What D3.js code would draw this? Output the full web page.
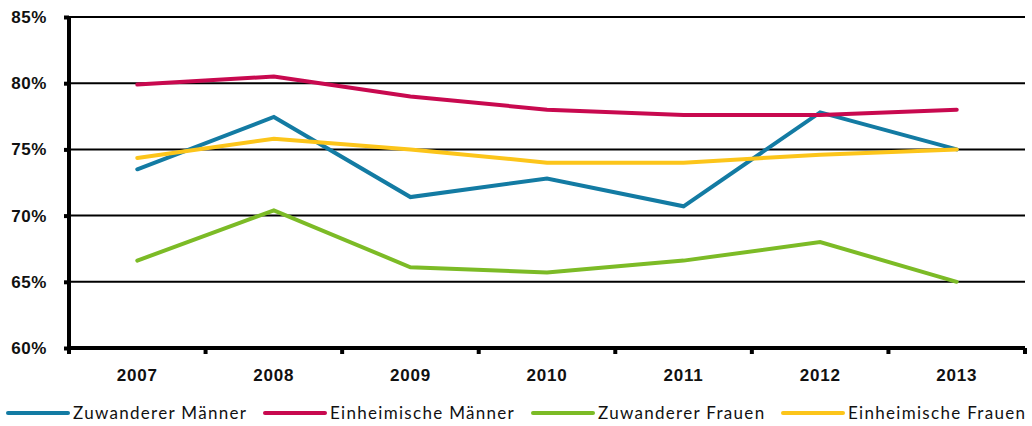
<!DOCTYPE html>
<html>
<head>
<meta charset="utf-8">
<script src="https://cdn.jsdelivr.net/npm/d3@7"></script>
<style>
  body { margin: 0; background: #fff; }
  svg { display: block; font-family: Lato, "Open Sans", sans-serif; }
</style>
</head>
<body>
<svg id="chart" width="1032" height="426"></svg>
<script>
"use strict";

// categories and series
const years = [ '2007', '2008', '2009', '2010', '2011', '2012', '2013' ];
const zuwandererMaenner   = [ 73.5, 77.45, 71.4, 72.8, 70.7, 77.8, 75.0 ];
const einheimischeMaenner = [ 79.9, 80.5, 79.0, 78.0, 77.6, 77.6, 78.0 ];
const zuwandererFrauen    = [ 66.6, 70.4, 66.1, 65.7, 66.6, 68.0, 65.0 ];
const einheimischeFrauen  = [ 74.35, 75.8, 75.0, 74.0, 74.0, 74.6, 75.0 ];
const yTicks = [ 60, 65, 70, 75, 80, 85 ];

const series = [
  { name: 'Zuwanderer Männer',   values: zuwandererMaenner,   color: '#137ba3' },
  { name: 'Einheimische Männer', values: einheimischeMaenner, color: '#c8094f' },
  { name: 'Zuwanderer Frauen',   values: zuwandererFrauen,    color: '#7cbb26' },
  { name: 'Einheimische Frauen', values: einheimischeFrauen,  color: '#fcc51a' },
];

const margin = { top: 17, left: 69, right: 7, bottom: 78 };
const width  = 1032 - margin.left - margin.right,
      height = 426 - margin.top - margin.bottom;

const svg = d3.select( '#chart' )
  .append( 'g' )
    .attr( 'transform', `translate(${margin.left}, ${margin.top})` );

// scales
const x = d3.scaleBand().domain( years ).range( [0, width] ).padding( 0 );
const y = d3.scaleLinear().domain( [60, 85] ).range( [height, 0] );

// gridlines
svg.append( 'g' )
  .selectAll( 'line' )
  .data( yTicks.filter( t => t > 60 ) )
  .enter().append( 'line' )
    .attr( 'x1', 0 ).attr( 'x2', width )
    .attr( 'y1', d => y(d) ).attr( 'y2', d => y(d) )
    .style( 'stroke', '#000' )
    .style( 'stroke-width', 2 );

// y axis
const yAxis = svg.append( 'g' )
  .call( d3.axisLeft( y ).tickValues( yTicks ).tickFormat( d => d + '%' ).tickSize( 5 ).tickPadding( 17 ) );
yAxis.select( '.domain' ).style( 'stroke-width', 4 ).attr( 'd', `M0,${height + 2}V-1` );
yAxis.selectAll( '.tick line' ).style( 'stroke-width', 4 );
yAxis.selectAll( 'text' )
  .style( 'font-size', '17px' ).style( 'font-weight', 'bold' )
  .style( 'letter-spacing', '0.6px' ).style( 'fill', '#111' );

// x axis with ticks at category boundaries
const xAxis = svg.append( 'g' )
  .attr( 'transform', `translate(0, ${height})` )
  .call( d3.axisBottom( x ).tickSize( 0 ).tickPadding( 21 ) );
xAxis.select( '.domain' ).style( 'stroke-width', 4 ).attr( 'd', `M0,0H${width}` );
xAxis.selectAll( 'text' )
  .style( 'font-size', '17px' ).style( 'font-weight', 'bold' )
  .style( 'letter-spacing', '0.8px' ).style( 'fill', '#111' );
xAxis.append( 'g' )
  .selectAll( 'line' )
  .data( years.concat( [ null ] ) )
  .enter().append( 'line' )
    .attr( 'x1', (d,i) => i * x.bandwidth() ).attr( 'x2', (d,i) => i * x.bandwidth() )
    .attr( 'y1', 0 ).attr( 'y2', 6 )
    .style( 'stroke', '#000' )
    .style( 'stroke-width', 4 );

// series lines
const line = d3.line()
  .x( (d,i) => x( years[i] ) + x.bandwidth() / 2 )
  .y( d => y(d) );

svg.append( 'g' )
  .selectAll( 'path' )
  .data( series )
  .enter().append( 'path' )
    .attr( 'd', d => line( d.values ) )
    .style( 'fill', 'none' )
    .style( 'stroke', d => d.color )
    .style( 'stroke-width', 4 )
    .style( 'stroke-linecap', 'round' )
    .style( 'stroke-linejoin', 'miter' );

// legend
const legendX = [ 8, 265, 533, 783 ];
const legend = d3.select( '#chart' ).append( 'g' )
  .attr( 'transform', 'translate(0, 413)' )
  .selectAll( 'g' )
  .data( series )
  .enter().append( 'g' )
    .attr( 'transform', (d,i) => `translate(${legendX[i]}, 0)` );
legend.append( 'line' )
  .attr( 'x1', 0 ).attr( 'x2', 60 )
  .style( 'stroke', d => d.color )
  .style( 'stroke-width', 4 )
  .style( 'stroke-linecap', 'round' );
legend.append( 'text' )
  .attr( 'x', 65 )
  .attr( 'dy', '0.35em' )
  .style( 'font-size', '17px' )
  .style( 'letter-spacing', '1.3px' )
  .style( 'fill', '#111' )
  .text( d => d.name );
</script>
</body>
</html>
